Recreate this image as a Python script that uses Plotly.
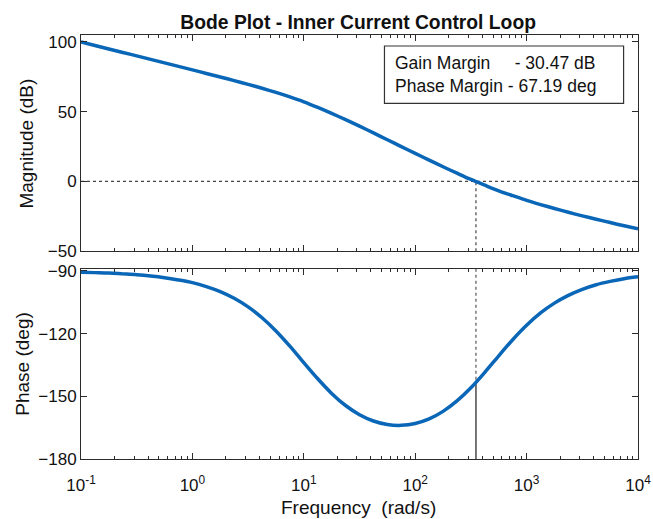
import plotly.graph_objects as go

# Open-loop frequency response of the inner current loop (1/8-decade steps)
freq = [0.1, 0.1334, 0.1778, 0.2371, 0.3162, 0.4217, 0.5623, 0.7499,
        1, 1.334, 1.778, 2.371, 3.162, 4.217, 5.623, 7.499,
        10, 13.34, 17.78, 23.71, 31.62, 42.17, 56.23, 74.99,
        100, 133.4, 177.8, 237.1, 316.2, 421.7, 562.3, 749.9,
        1000, 1334, 1778, 2371, 3162, 4217, 5623, 7499, 10000]
magnitude_db = [100.0, 97.5, 95.0, 92.5, 90.0, 87.5, 85.0, 82.5,
                80.0, 77.4, 74.9, 72.3, 69.6, 66.8, 63.8, 60.6,
                57.1, 53.1, 48.8, 44.3, 39.6, 34.8, 29.9, 25.0,
                20.1, 15.3, 10.5, 5.9, 1.4, -2.7, -6.7, -10.2,
                -13.6, -16.6, -19.4, -22.1, -24.7, -27.1, -29.5, -31.8, -34.0]
phase_deg = [-90.6, -90.8, -91.0, -91.4, -91.8, -92.4, -93.2, -94.3,
             -95.6, -97.5, -99.9, -103.1, -107.2, -112.4, -118.7, -126.0,
             -133.9, -141.6, -148.6, -154.4, -158.8, -161.8, -163.5, -163.9,
             -163.0, -160.8, -157.2, -152.2, -145.9, -138.5, -130.6, -122.9,
             -116.0, -110.1, -105.4, -101.7, -98.8, -96.6, -95.0, -93.7, -92.8]

# Gain crossover point
crossover_freq = 351
crossover_phase = -143.6

x_tick_vals = [0.1, 1, 10, 100, 1000, 10000]
x_tick_text = ["10<sup>-1</sup>", "10<sup>0</sup>", "10<sup>1</sup>",
               "10<sup>2</sup>", "10<sup>3</sup>", "10<sup>4</sup>"]
mag_ticks = [-50, 0, 50, 100]
phase_ticks = [-180, -150, -120, -90]
margin_lines = ["Gain Margin\u00a0\u00a0\u00a0\u00a0\u00a0- 30.47 dB",
                "Phase Margin - 67.19 deg"]

W, H = 653, 519
L, R, T, B = 81, 637.7, 35, 458.7
FONT = "Liberation Sans, Arial, Helvetica, sans-serif"
BLUE = "#0A66B7"
AXIS = "#2b2b2b"
TEXT = "#111111"


def px_x(x):
    return (x - L) / (R - L)


def px_y(y):
    return (B - y) / (B - T)


minor_vals = [m * 10 ** e for e in range(-1, 4) for m in range(2, 10)]

fig = go.Figure()

# magnitude panel
fig.add_trace(go.Scatter(x=[freq[0], freq[-1]], y=[0, 0], mode="lines",
                         line=dict(color="#444444", width=1.2, dash="dot"),
                         xaxis="x", yaxis="y", hoverinfo="skip"))
fig.add_trace(go.Scatter(x=[crossover_freq, crossover_freq], y=[mag_ticks[0], 0], mode="lines",
                         line=dict(color="#444444", width=1.2, dash="dot"),
                         xaxis="x", yaxis="y", hoverinfo="skip"))
fig.add_trace(go.Scatter(x=freq, y=magnitude_db, mode="lines",
                         line=dict(color=BLUE, width=3.5, shape="spline", smoothing=0.8),
                         xaxis="x", yaxis="y"))

# phase panel
fig.add_trace(go.Scatter(x=[crossover_freq, crossover_freq], y=[-89, crossover_phase], mode="lines",
                         line=dict(color="#555555", width=1.2, dash="dot"),
                         xaxis="x2", yaxis="y2", hoverinfo="skip"))
fig.add_trace(go.Scatter(x=[crossover_freq, crossover_freq], y=[phase_ticks[0], crossover_phase],
                         mode="lines", line=dict(color="#555555", width=1.6),
                         xaxis="x2", yaxis="y2", hoverinfo="skip"))
fig.add_trace(go.Scatter(x=freq, y=phase_deg, mode="lines",
                         line=dict(color=BLUE, width=3.5, shape="spline", smoothing=0.8),
                         xaxis="x2", yaxis="y2"))

common_x = dict(type="log", range=[-1, 4], showline=True, linecolor=AXIS, linewidth=1,
                mirror="allticks", ticks="inside", ticklen=6, tickcolor=AXIS,
                tickvals=x_tick_vals, ticktext=x_tick_text, showgrid=False, zeroline=False,
                automargin=False,
                minor=dict(tickvals=minor_vals, ticks="inside", ticklen=3, tickcolor=AXIS,
                           showgrid=False),
                tickfont=dict(family=FONT, size=17, color=TEXT))
common_y = dict(showline=True, linecolor=AXIS, linewidth=1, mirror="allticks",
                ticks="inside", ticklen=6, tickcolor=AXIS, showgrid=False, zeroline=False,
                automargin=False,
                tickfont=dict(family=FONT, size=17, color=TEXT), ticklabelstandoff=0)

fig.update_layout(
    width=W, height=H,
    margin=dict(l=L, r=W - R, t=T, b=H - B),
    paper_bgcolor="white", plot_bgcolor="white",
    showlegend=False,
    xaxis=dict(common_x, domain=[0, 1], anchor="y", showticklabels=False),
    yaxis=dict(common_y, domain=[px_y(251), 1], anchor="x", range=[-50, 105],
               tickvals=mag_ticks),
    xaxis2=dict(common_x, domain=[0, 1], anchor="y2", ticklabelstandoff=11),
    yaxis2=dict(common_y, domain=[0, px_y(268.7)], anchor="x2", range=[-180, -89],
                tickvals=phase_ticks),
    title=dict(text="<b>Bode Plot - Inner Current Control Loop</b>", x=px_x(358), xref="paper",
               xanchor="center", y=1 - 22 / H, yanchor="middle",
               font=dict(family=FONT, size=19.3, color=TEXT)),
)

fig.add_shape(type="rect", xref="paper", yref="paper",
              x0=px_x(384.3), x1=px_x(623.3), y0=px_y(103.3), y1=px_y(46),
              line=dict(color="#333333", width=1.2), fillcolor="white", layer="above")

annotations = [
    dict(text="<br>".join(margin_lines), x=px_x(392.7), y=px_y(74.7), xref="paper", yref="paper",
         xanchor="left", yanchor="middle", align="left", showarrow=False,
         font=dict(family=FONT, size=17.5, color=TEXT)),
    dict(text="Frequency\u00a0\u00a0(rad/s)", x=px_x(358), y=px_y(507), xref="paper", yref="paper",
         xanchor="center", yanchor="middle", showarrow=False,
         font=dict(family=FONT, size=19, color=TEXT)),
    dict(text="Magnitude (dB)", x=px_x(26.5), y=px_y(143), xref="paper", yref="paper",
         xanchor="center", yanchor="middle", textangle=-90, showarrow=False,
         font=dict(family=FONT, size=19, color=TEXT)),
    dict(text="Phase (deg)", x=px_x(23), y=px_y(363.5), xref="paper", yref="paper",
         xanchor="center", yanchor="middle", textangle=-90, showarrow=False,
         font=dict(family=FONT, size=19, color=TEXT)),
]
fig.update_layout(annotations=annotations)

fig.write_html("out.html")
